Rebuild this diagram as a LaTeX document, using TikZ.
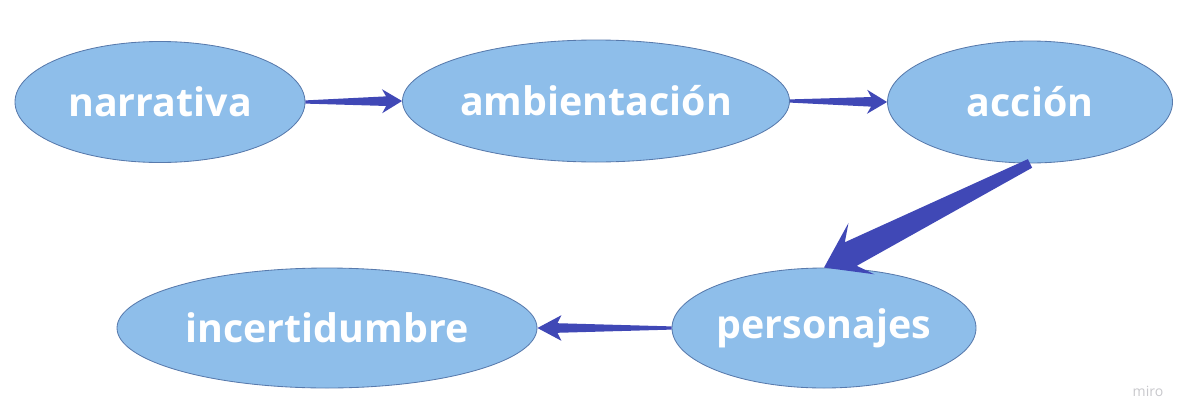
\documentclass[tikz,border=0pt]{standalone}
\usepackage{fontspec}
\setmainfont{Open Sans}
\usepackage{tikz}
\usetikzlibrary{shapes.geometric, calc, positioning}
\definecolor{bubbleblue}{RGB}{142,190,234}
\definecolor{bubbleedge}{RGB}{88,122,172}
\definecolor{arrowblue}{RGB}{64,72,182}
\definecolor{watermark}{RGB}{200,200,204}

% tapered arrow: start, tip, tail half width, shaft half width, head length, barb sweep, head half width
\newcommand{\taperarrow}[7]{%
  \coordinate (hb) at ($(#2)!#5!(#1)$);
  \coordinate (hw) at ($(#2)!#5+#6!(#1)$);
  \fill[arrowblue] ($(#1)!#3!90:(#2)$) -- ($(hb)!#4!90:(#2)$) -- ($(hw)!#7!90:(#2)$)
    -- (#2) -- ($(hw)!#7!-90:(#2)$) -- ($(hb)!#4!-90:(#2)$) -- ($(#1)!#3!-90:(#2)$) -- cycle;
}

\begin{document}
\begin{tikzpicture}
    \tikzstyle{bubble}=[ellipse, draw=bubbleedge, fill=bubbleblue, line width=0.6pt, inner sep=0pt,
        text=white, font=\bfseries\fontsize{28}{31}\selectfont]

    \useasboundingbox (0,0) rectangle (29.475,9.975);

    % Ellipses, top row
    \node[bubble, minimum width=7.25cm, minimum height=3.025cm] (narr) at (4.0,7.425) {narrativa};
    \node[bubble, minimum width=9.675cm, minimum height=3.05cm] (amb) at (14.9,7.45) {ambientación};
    \node[bubble, minimum width=7.125cm, minimum height=3.05cm] (acc) at (25.75,7.425) {acción};

    % Ellipses, bottom row
    \node[bubble, minimum width=7.6cm, minimum height=3.0cm] (pers) at (20.6,1.775) {personajes};
    \node[bubble, minimum width=10.5cm, minimum height=3.0cm] (inc) at (8.175,1.775) {incertidumbre};

    % Arrows
    \taperarrow{narr.east}{amb.west}{0.04cm}{0.12cm}{0.4cm}{0.1cm}{0.3cm}
    \taperarrow{amb.east}{acc.west}{0.04cm}{0.12cm}{0.4cm}{0.1cm}{0.3cm}
    \taperarrow{acc.south}{pers.north}{0.12cm}{0.33cm}{0.75cm}{0.3cm}{0.72cm}
    \taperarrow{pers.west}{inc.east}{0.04cm}{0.12cm}{0.5cm}{0.1cm}{0.32cm}

    % Watermark
    \node[text=watermark, font=\fontsize{10}{11}\selectfont] (miro) at (28.7,0.2) {miro};
\end{tikzpicture}
\end{document}
